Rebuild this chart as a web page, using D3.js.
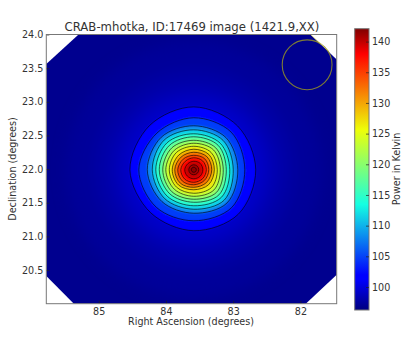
<!DOCTYPE html>
<html lang="en">
<head>
<meta charset="utf-8">
<title>CRAB-mhotka</title>
<script src="https://d3js.org/d3.v7.min.js"></script>
<style>
body { margin: 0; background: #fff; }
text { font-family: "DejaVu Sans", sans-serif; fill: #333; }
.axis text { font-size: 9.6px; }
.axis line { stroke: #222; stroke-width: 0.7; }
.axis path { display: none; }
</style>
</head>
<body>
<div id="chart"></div>
<script>
// tick labels
var raTicks = [85, 84, 83, 82]
var decTicks = [20.5, 21, 21.5, 22, 22.5, 23, 23.5, 24]
var powerTicks = [100, 105, 110, 115, 120, 125, 130, 135, 140]

// contour levels in Kelvin, outermost first
var levels = [100, 103, 106.5, 110, 113, 116, 119, 122, 125, 128, 131, 134, 136.5, 139, 140.5, 141.5]

// radius of each contour from the peak, degrees, one list per compass direction
var radN = [.935, .773, .654, .594, .535, .490, .438, .394, .349, .305, .260, .215, .178, .126, .074, .037]
var radNE = [.921, .788, .676, .617, .557, .513, .461, .416, .364, .319, .275, .230, .186, .134, .074, .037]
var radE = [.921, .758, .654, .587, .535, .483, .438, .394, .349, .305, .267, .223, .186, .134, .074, .037]
var radSE = [.935, .795, .698, .639, .580, .528, .476, .424, .372, .312, .267, .223, .186, .134, .074, .037]
var radS = [.906, .758, .646, .587, .535, .483, .438, .394, .349, .297, .260, .223, .186, .134, .074, .037]
var radSW = [.905, .788, .669, .609, .557, .505, .461, .409, .364, .320, .282, .238, .193, .134, .074, .037]
var radW = [.950, .817, .691, .617, .565, .513, .461, .416, .364, .320, .282, .238, .193, .134, .074, .037]
var radNW = [.930, .773, .684, .624, .565, .513, .461, .409, .364, .312, .267, .223, .178, .126, .074, .037]

// faint halo outside the outer contour
var haloLevels = [97.3, 97.8, 98.4, 99.2]
var haloRadii = [1.9, 1.5, 1.25, 1.05]

var peakRa = 83.586, peakDec = 21.99, peakPower = 142
var baseLevel = 96.9

// image footprint, clipped corners
var footRa = [85.78, 85.30, 81.85, 81.46, 81.46, 81.92, 85.37, 85.78]
var footDec = [23.56, 24, 24, 23.63, 20.43, 20, 20, 20.41]

// pale edge at the top right corner
var fringeRa = [81.85, 81.58]
var fringeDec = [24, 23.755]

// beam circle
var beamRa = 81.90, beamDec = 23.55, beamR = 0.37

var vMin = 96.25, vMax = 142.1

// jet colormap
var jetPos = [0, .11, .125, .375, .64, .89, .91, 1]
var jetCol = ["#00007f", "#0000ff", "#0000ff", "#14ffe2", "#eeff08", "#ff1400", "#ff0000", "#800000"]

var w = 418, h = 338
var left = 46.3, right = 336.7, top_ = 34.5, bottom = 303.7
var barL = 354.7, barR = 369, barT = 28.7, barB = 310

var x = d3.scaleLinear().domain([85.78, 81.46]).range([left, right])
var y = d3.scaleLinear().domain([20, 24]).range([bottom, top_])
var rScale = d3.scaleLinear().domain([0, 1]).range([0, 67.3])
var tScale = d3.scaleLinear().domain([vMin, vMax]).range([0, 1])
var jet = d3.scaleLinear().domain(jetPos).range(jetCol)
var power = d3.scaleLinear().domain([vMin, vMax]).range([barB, barT])

var svg = d3.select("#chart").append("svg")
    .attr("width", w)
    .attr("height", h)
    .style("display", "block")

var defs = svg.append("defs")

var foot = footRa.map(function(d, i) { return [x(d), y(footDec[i])] })
defs.append("clipPath").attr("id", "footprint")
    .append("polygon").attr("points", foot.join(" "))

defs.append("filter").attr("id", "haloBlur").attr("x", "-40%").attr("y", "-40%").attr("width", "180%").attr("height", "180%")
    .append("feGaussianBlur").attr("stdDeviation", 7)
defs.append("filter").attr("id", "bandBlur").attr("x", "-20%").attr("y", "-20%").attr("width", "140%").attr("height", "140%")
    .append("feGaussianBlur").attr("stdDeviation", 1.2)
defs.append("filter").attr("id", "lineBlur").attr("x", "-20%").attr("y", "-20%").attr("width", "140%").attr("height", "140%")
    .append("feGaussianBlur").attr("stdDeviation", 0.35)

var grad = defs.append("linearGradient").attr("id", "jetBar")
    .attr("x1", 0).attr("y1", 1).attr("x2", 0).attr("y2", 0)
grad.selectAll("stop").data(jetPos).enter().append("stop")
    .attr("offset", function(d) { return d })
    .attr("stop-color", function(d, i) { return jetCol[i] })

// the sky image
var field = svg.append("g").attr("clip-path", "url(#footprint)")
field.append("rect")
    .attr("x", left).attr("y", top_)
    .attr("width", right - left).attr("height", bottom - top_)
    .attr("fill", jet(tScale(baseLevel)))

var peak = "translate(" + x(peakRa) + "," + y(peakDec) + ")"

field.append("g").attr("filter", "url(#haloBlur)").attr("transform", peak)
    .selectAll("circle").data(haloLevels).enter().append("circle")
    .attr("r", function(d, i) { return rScale(haloRadii[i]) })
    .attr("fill", function(d) { return jet(tScale(d)) })

var contours = levels.map(function(d, i) {
    return [radN[i], radNE[i], radE[i], radSE[i], radS[i], radSW[i], radW[i], radNW[i]]
})

var ring = d3.lineRadial()
    .angle(function(d, i) { return i * Math.PI / 4 })
    .radius(function(d) { return rScale(d) })
    .curve(d3.curveCatmullRomClosed)

// each band is painted halfway to the next level
field.append("g").attr("filter", "url(#bandBlur)").attr("transform", peak)
    .selectAll("path").data(contours).enter().append("path")
    .attr("d", ring)
    .attr("fill", function(d, i) {
        var next = i < levels.length - 1 ? levels[i + 1] : peakPower
        return jet(tScale((levels[i] + next) / 2))
    })

field.append("g").attr("filter", "url(#lineBlur)").attr("transform", peak)
    .selectAll("path").data(contours).enter().append("path")
    .attr("d", ring)
    .attr("fill", "none")
    .attr("stroke", "#000")
    .attr("stroke-opacity", 0.68)
    .attr("stroke-width", 0.9)

// beam
svg.append("ellipse")
    .attr("cx", x(beamRa)).attr("cy", y(beamDec))
    .attr("rx", rScale(beamR)).attr("ry", rScale(beamR))
    .attr("fill", "none")
    .attr("stroke", "#7d7b35")
    .attr("stroke-width", 1.1)

svg.append("line")
    .attr("x1", x(fringeRa[0])).attr("y1", y(fringeDec[0]))
    .attr("x2", x(fringeRa[1])).attr("y2", y(fringeDec[1]))
    .attr("stroke", "#e8e060")
    .attr("stroke-opacity", 0.7)
    .attr("stroke-width", 1)

// axes
var xAxis = d3.axisBottom(x).tickValues(raTicks).tickFormat(d3.format("d")).tickSizeInner(-3).tickPadding(4)
var yAxis = d3.axisLeft(y).tickValues(decTicks).tickFormat(d3.format(".1f")).tickSizeInner(-3).tickPadding(3)

svg.append("g").attr("class", "axis")
    .attr("transform", "translate(0," + bottom + ")")
    .call(xAxis)
svg.append("g").attr("class", "axis")
    .attr("transform", "translate(" + left + ",0)")
    .call(yAxis)

svg.append("rect")
    .attr("x", left).attr("y", top_)
    .attr("width", right - left).attr("height", bottom - top_)
    .attr("fill", "none").attr("stroke", "#777").attr("stroke-width", 1)

// colorbar
svg.append("rect")
    .attr("x", barL).attr("y", barT)
    .attr("width", barR - barL).attr("height", barB - barT)
    .attr("fill", "url(#jetBar)")
    .attr("stroke", "#777").attr("stroke-width", 1)

var barAxis = d3.axisRight(power).tickValues(powerTicks).tickSizeInner(-3).tickPadding(3)
svg.append("g").attr("class", "axis")
    .attr("transform", "translate(" + barR + ",0)")
    .call(barAxis)

// labels
svg.append("text")
    .attr("x", 192).attr("y", 31)
    .attr("text-anchor", "middle")
    .style("font-size", "11.7px")
    .text("CRAB-mhotka, ID:17469 image (1421.9,XX)")

svg.append("text")
    .attr("x", 191).attr("y", 325)
    .attr("text-anchor", "middle")
    .style("font-size", "9.6px")
    .text("Right Ascension (degrees)")

svg.append("text")
    .attr("transform", "translate(16,169) rotate(-90)")
    .attr("text-anchor", "middle")
    .style("font-size", "9.6px")
    .text("Declination (degrees)")

svg.append("text")
    .attr("transform", "translate(400,169) rotate(-90)")
    .attr("text-anchor", "middle")
    .style("font-size", "9.6px")
    .text("Power in Kelvin")
</script>
</body>
</html>
